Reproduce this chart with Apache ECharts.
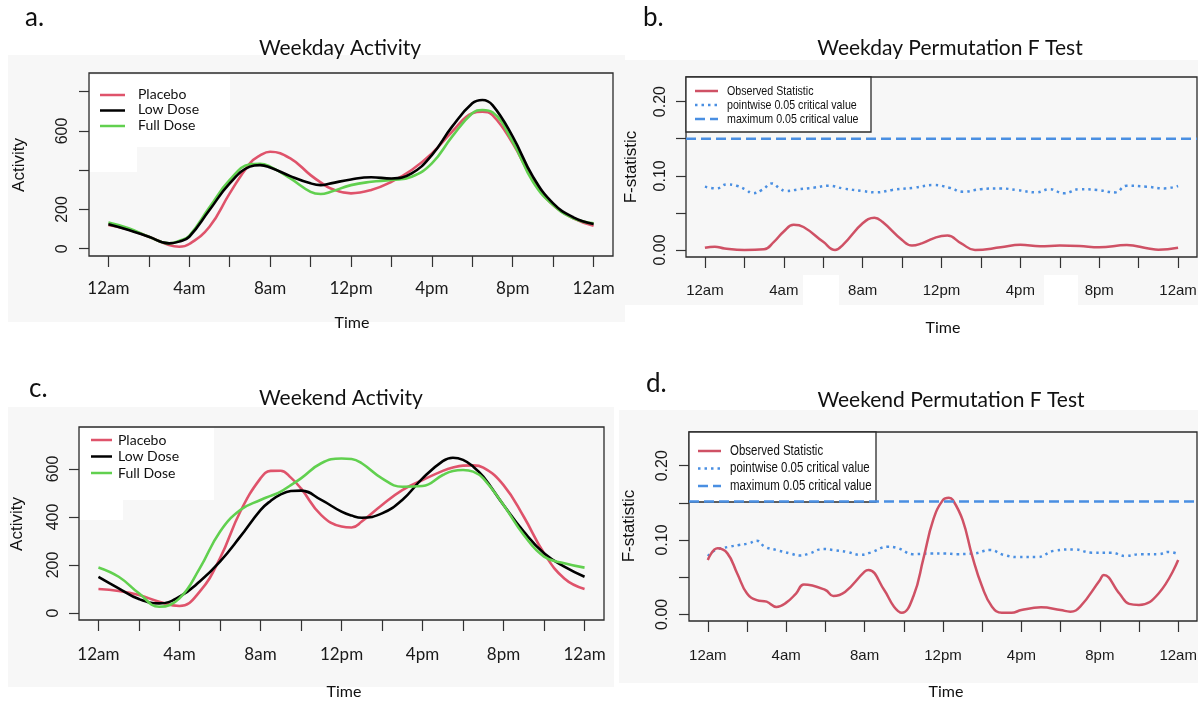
<!DOCTYPE html>
<html><head><meta charset="utf-8">
<script src="https://cdn.jsdelivr.net/npm/echarts@6/dist/echarts.min.js"></script>
<style>html,body{margin:0;padding:0;background:#fff}#c{width:1198px;height:702px}</style>
</head><body><div id="c"></div>
<script>
// ---------- tick labels ----------
const timeTickHours = [0,2,4,6,8,10,12,14,16,18,20,22,24];
const timeLabelHours = [0,4,8,12,16,20,24];
const timeLabels = ['12am','4am','8am','12pm','4pm','8pm','12am'];
const activityTicksA = [0,200,400,600,800];
const activityLabelsA = [0,200,600];
const activityTicksC = [0,200,400,600];
const activityLabelsC = [0,200,400,600];
const fTicks = [0,0.05,0.10,0.15,0.20];
const fLabels = [0,0.10,0.20];

// ---------- a. Weekday Activity ----------
const wkdHours = [0,1,2,3,3.5,4,5,6,7,7.5,8,9,10,10.5,11,12,13,14,15,16,17,18,18.5,19,20,21,22,23,24];
const wkdPlacebo = [121,98,61,19,10,24,112,282,435,475,494,460,375,338,307,282,299,341,401,486,596,690,698,681,537,350,222,155,117];
const wkdLowDose = [124,95,61,27,36,61,197,333,418,426,414,370,333,324,333,353,364,358,384,477,622,741,758,732,571,367,231,160,126];
const wkdFullDose = [133,104,61,27,40,66,211,350,430,433,418,358,290,279,290,324,341,350,367,435,571,690,707,695,545,341,222,155,129];

// ---------- c. Weekend Activity ----------
const wkeHours = [0,1,2,3,4,5,6,7,8,8.5,9,9.5,10,11,12,12.5,13,14,15,16,17,17.5,18,18.5,19,20,21,22,23,24];
const wkePlacebo = [100,92,75,47,29,89,228,422,561,592,593,564,519,408,360,356,381,450,512,554,592,606,614,615,606,533,401,249,144,100];
const wkeLowDose = [151,103,58,40,68,131,214,318,429,467,494,508,510,471,422,406,397,415,471,561,633,647,638,610,568,450,339,249,193,151];
const wkeFullDose = [190,151,82,26,61,186,339,429,471,488,506,533,561,624,644,642,624,561,526,529,575,592,596,589,561,450,325,235,207,189];

// ---------- b. Weekday Permutation F Test ----------
const wkdObsHours = [0,0.5,1,2,3,3.5,4,4.5,5,6,6.6,7,8,8.6,9,10,10.5,11,12,12.3,13,13.7,15,16,17,18,19,20,21.4,22.5,23,24];
const wkdObserved = [0.003,0.0045,0.002,0.0,0.001,0.011,0.025,0.034,0.031,0.011,0.0,0.007,0.036,0.0436,0.038,0.0135,0.006,0.009,0.019,0.0195,0.009,0.0,0.0036,0.007,0.005,0.006,0.0054,0.0036,0.0067,0.002,0.0004,0.003];
const wkdPointHours = [0,0.6,1.1,1.6,2.1,2.4,2.9,3.4,3.8,4.1,4.8,5.5,6.3,7.0,8.0,8.7,9.5,10.6,11.6,12.4,13.1,14.0,15.0,15.8,16.8,17.5,18.2,19.0,19.9,20.8,21.4,22.4,23.3,24];
const wkdPointwise = [0.0854,0.083,0.0885,0.0867,0.081,0.0764,0.081,0.0898,0.083,0.0795,0.082,0.084,0.0867,0.083,0.0795,0.0777,0.081,0.084,0.0876,0.084,0.0786,0.082,0.083,0.081,0.0777,0.082,0.0764,0.082,0.081,0.0777,0.0867,0.0854,0.083,0.0863];
const wkdMaxCritical = 0.15;

// ---------- d. Weekend Permutation F Test ----------
const wkeObsHours = [0,0.5,1,1.5,2,2.5,3,3.5,4,4.5,4.9,6,6.4,7,8,8.2,9,9.5,9.9,10.5,11,11.5,12,12.3,12.5,13,13.5,14,14.5,15,15.5,16,17,18,18.5,19,20,20.2,21,21.5,22,23,24];
const wkeObserved = [0.073,0.0888,0.082,0.055,0.028,0.019,0.017,0.010,0.0157,0.028,0.040,0.0327,0.0247,0.030,0.0574,0.0596,0.0327,0.0103,0.002,0.025,0.075,0.127,0.154,0.157,0.154,0.127,0.0776,0.037,0.0103,0.002,0.002,0.0058,0.0094,0.0058,0.0036,0.0103,0.046,0.053,0.028,0.014,0.0126,0.028,0.073];
const wkePointHours = [0,0.4,1.1,1.6,2.1,2.5,2.9,3.5,4.2,4.7,5.2,5.9,6.4,7.1,7.8,8.3,9.2,9.7,10.5,11.4,12.1,12.7,13.6,14.4,15.1,15.8,16.8,17.7,18.7,19.6,20.6,21.3,22.1,23.0,23.5,24];
const wkePointwise = [0.0785,0.0865,0.091,0.0933,0.0955,0.099,0.091,0.0865,0.082,0.079,0.082,0.088,0.0865,0.084,0.080,0.083,0.091,0.089,0.081,0.082,0.082,0.081,0.082,0.0865,0.080,0.077,0.077,0.0857,0.0874,0.083,0.083,0.0785,0.081,0.081,0.084,0.081];
const wkeMaxCritical = 0.152;

// ---------- styling ----------
const X_MIN = -0.96, X_MAX = 24.96;
const C_RED = '#DF536B', C_BLACK = '#000000', C_GREEN = '#61D04F';
const C_OBS = '#CF5165', C_BLUE = '#4A8FE2';
const HUMAN = 'Lato, "Open Sans", sans-serif';
const HELV = '"Liberation Sans", Arial, sans-serif';

const pairs = (h, v) => h.map((x, i) => [x, v[i]]);

function xAxis(gi, margin, font, size) {
  return {
    gridIndex: gi, type: 'value', min: X_MIN, max: X_MAX, position: 'bottom',
    axisLine: { show: false, onZero: false }, splitLine: { show: false },
    axisTick: { show: true, inside: false, customValues: timeTickHours, length: 11, lineStyle: { color: '#333', width: 1.2 } },
    axisLabel: { show: true, customValues: timeLabelHours, margin: margin, fontFamily: font, fontSize: size, color: '#1a1a1a',
      formatter: v => timeLabels[Math.round(v / 4)] }
  };
}
function yAxis(gi, min, max, ticks, labels, margin, fmt) {
  return {
    gridIndex: gi, type: 'value', min: min, max: max, position: 'left',
    axisLine: { show: false, onZero: false }, splitLine: { show: false },
    axisTick: { show: true, inside: false, customValues: ticks, length: 10, lineStyle: { color: '#333', width: 1.2 } },
    axisLabel: { show: true, customValues: labels, rotate: 90, margin: margin, fontFamily: HELV, fontSize: 16, color: '#1a1a1a',
      formatter: fmt }
  };
}
function grid(left, top, width, height) {
  return { left, top, width, height, show: true, borderColor: '#2b2b2b', borderWidth: 1.3,
    backgroundColor: 'transparent', containLabel: false, outerBoundsMode: 'none' };
}
function line(name, gi, h, v, color, width, type) {
  return { name, type: 'line', xAxisIndex: gi, yAxisIndex: gi, data: pairs(h, v), smooth: 0.45,
    showSymbol: false, symbol: 'none', silent: true, z: 3,
    lineStyle: { color, width, type: type || 'solid', cap: 'butt' }, itemStyle: { color } };
}
function hline(name, gi, value, color) {
  return { name, type: 'line', xAxisIndex: gi, yAxisIndex: gi, data: [[X_MIN, value], [X_MAX, value]],
    showSymbol: false, symbol: 'none', silent: true, z: 3,
    lineStyle: { color, width: 2.5, type: [10, 5] }, itemStyle: { color } };
}

// ---------- decorations (text, legends, panel backgrounds) ----------
const G = [];
function rect(x, y, w, h, fill, z, stroke, lw) {
  G.push({ type: 'rect', z: z, shape: { x, y, width: w, height: h },
    style: { fill: fill, stroke: stroke || null, lineWidth: lw || 0 } });
}
function text(t, x, y, size, family, opts) {
  opts = opts || {};
  G.push({ type: 'text', z: 100, x, y, rotation: opts.rot || 0, scaleX: opts.sx || 1,
    style: { text: t, fontSize: size, fontFamily: family, fill: opts.color || '#111',
      textAlign: opts.align || 'center', textVerticalAlign: 'middle', fontWeight: opts.weight || 'normal' } });
}
function seg(x1, y1, x2, y2, color, w, dash) {
  G.push({ type: 'line', z: 100, shape: { x1, y1, x2, y2 },
    style: { stroke: color, lineWidth: w, lineDash: dash || null, lineCap: 'butt' } });
}
const BG = '#f7f7f7';
// panel backgrounds
rect(8, 55, 617, 267, BG, -10);
rect(625, 60, 573, 245, BG, -10);
rect(803, 275, 36, 32, '#ffffff', -9);
rect(1044, 275, 34, 32, '#ffffff', -9);
rect(8, 407, 606, 280, BG, -10);
rect(619, 410, 579, 273, BG, -10);
// white legend patches (a, c)
rect(90, 75, 140, 72, '#ffffff', -5);
rect(90, 147, 47, 25, '#ffffff', -5);
rect(80, 428, 134, 72, '#ffffff', -5);
rect(80, 500, 43, 20, '#ffffff', -5);

// panel letters and titles
text('a.', 25, 18, 26, HUMAN, { align: 'left' });
text('b.', 643, 18, 26, HUMAN, { align: 'left' });
text('c.', 29, 389, 26, HUMAN, { align: 'left' });
text('d.', 646, 384, 26, HUMAN, { align: 'left' });
text('Weekday Activity', 340, 48, 21, HUMAN);
text('Weekday Permutation F Test', 950, 48, 21, HUMAN);
text('Weekend Activity', 341, 398, 21, HUMAN);
text('Weekend Permutation F Test', 951, 400, 21, HUMAN);
// axis names
text('Time', 352, 323, 16, HUMAN);
text('Time', 943, 328, 16, HUMAN);
text('Time', 344, 692, 16, HUMAN);
text('Time', 946, 692, 16, HUMAN);
text('Activity', 19, 165, 17, HELV, { rot: Math.PI / 2 });
text('F-statistic', 631, 167, 17, HELV, { rot: Math.PI / 2 });
text('Activity', 17, 524, 17, HELV, { rot: Math.PI / 2 });
text('F-statistic', 629, 526, 17, HELV, { rot: Math.PI / 2 });

// legend a
const legA = [['Placebo', C_RED], ['Low Dose', C_BLACK], ['Full Dose', C_GREEN]];
legA.forEach((it, i) => { const y = 94 + i * 15.5; seg(100, y + 1, 125, y + 1, it[1], 2.5); text(it[0], 138, y, 14, HUMAN, { align: 'left' }); });
// legend c
legA.forEach((it, i) => { const y = 440 + i * 16.5; seg(91, y, 112, y, it[1], 2.5); text(it[0], 118, y, 14, HUMAN, { align: 'left' }); });
// legend b
const legB = [['Observed Statistic', C_OBS, null], ['pointwise 0.05 critical value', C_BLUE, [2.5, 4]], ['maximum 0.05 critical value', C_BLUE, [10, 5]]];
rect(686, 77, 185, 55, '#ffffff', 1, '#2b2b2b', 1.3);
legB.forEach((it, i) => { const y = 91 + i * 14; seg(695, y, 718, y, it[1], 2.5, it[2]); text(it[0], 727, y, 13, HELV, { align: 'left', sx: 0.82 }); });
// legend d
rect(689, 432, 187, 70, '#ffffff', 1, '#2b2b2b', 1.3);
legB.forEach((it, i) => { const y = 451 + i * 17.5; seg(698, y, 721, y, it[1], 2.5, it[2]); text(it[0], 730, y, 14, HELV, { align: 'left', sx: 0.82 }); });

const option = {
  backgroundColor: '#ffffff',
  animation: false,
  grid: [grid(89, 73, 524, 183), grid(686, 77, 511, 180), grid(79, 427, 525, 193), grid(689, 432, 508, 189)],
  xAxis: [xAxis(0, 24, HUMAN, 17), xAxis(1, 26, HELV, 15), xAxis(2, 26, HUMAN, 17), xAxis(3, 27, HELV, 15)],
  yAxis: [
    yAxis(0, -37.2, 895.3, activityTicksA, activityLabelsA, 18, v => String(v)),
    yAxis(1, -0.0094, 0.2332, fTicks, fLabels, 17, v => v.toFixed(2)),
    yAxis(2, -29.2, 775, activityTicksC, activityLabelsC, 17, v => String(v)),
    yAxis(3, -0.009, 0.2454, fTicks, fLabels, 18, v => v.toFixed(2))
  ],
  series: [
    line('Placebo', 0, wkdHours, wkdPlacebo, C_RED, 2.6),
    line('Full Dose', 0, wkdHours, wkdFullDose, C_GREEN, 2.6),
    line('Low Dose', 0, wkdHours, wkdLowDose, C_BLACK, 2.6),
    line('pointwise 0.05 critical value', 1, wkdPointHours, wkdPointwise, C_BLUE, 2.5, [2.5, 4]),
    hline('maximum 0.05 critical value', 1, wkdMaxCritical, C_BLUE),
    line('Observed Statistic', 1, wkdObsHours, wkdObserved, C_OBS, 2.5),
    line('Placebo', 2, wkeHours, wkePlacebo, C_RED, 2.6),
    line('Low Dose', 2, wkeHours, wkeLowDose, C_BLACK, 2.6),
    line('Full Dose', 2, wkeHours, wkeFullDose, C_GREEN, 2.6),
    line('pointwise 0.05 critical value', 3, wkePointHours, wkePointwise, C_BLUE, 2.5, [2.5, 4]),
    line('Observed Statistic', 3, wkeObsHours, wkeObserved, C_OBS, 2.5),
    hline('maximum 0.05 critical value', 3, wkeMaxCritical, C_BLUE)
  ],
  graphic: { elements: G }
};
const chart = echarts.init(document.getElementById('c'), null, { renderer: 'canvas' });
chart.setOption(option);
</script></body></html>
